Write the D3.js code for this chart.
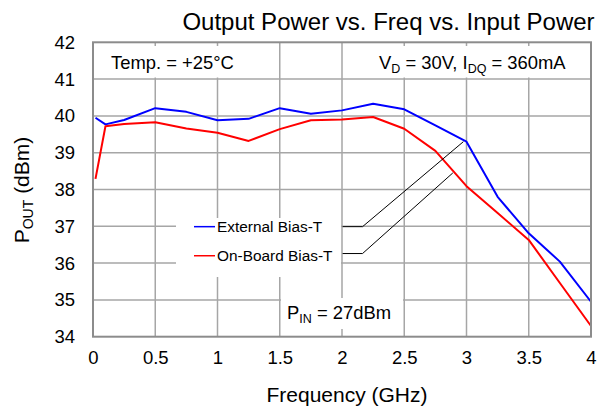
<!DOCTYPE html>
<html>
<head>
<meta charset="utf-8">
<script src="https://cdn.jsdelivr.net/npm/d3@7"></script>
<style>
  html, body { margin: 0; padding: 0; background: #fff; }
  svg { display: block; font-family: "Liberation Sans", Arial, sans-serif; }
</style>
</head>
<body>
<svg id="chart" width="598" height="411"></svg>
<script>
// Frequency points (GHz)
const freq = [0.02, 0.1, 0.25, 0.5, 0.75, 1, 1.25, 1.5, 1.75, 2, 2.25, 2.5, 2.75, 3, 3.25, 3.5, 3.75, 4];
// Output power (dBm) for each bias configuration
const externalBiasT = [39.95, 39.77, 39.89, 40.21, 40.11, 39.88, 39.92, 40.21, 40.06, 40.15, 40.33, 40.18, 39.74, 39.30, 37.80, 36.81, 36.04, 34.95];
const onBoardBiasT  = [38.29, 39.72, 39.78, 39.83, 39.66, 39.54, 39.32, 39.64, 39.88, 39.90, 39.97, 39.65, 39.05, 38.09, 37.36, 36.63, 35.46, 34.29];
const seriesNames = ["External Bias-T", "On-Board Bias-T"];
const seriesColors = ["#0000ff", "#ff0000"];
const xTicks = [0, 0.5, 1, 1.5, 2, 2.5, 3, 3.5, 4];
const yTicks = [34, 35, 36, 37, 38, 39, 40, 41, 42];

const svg = d3.select("#chart");
const m = { left: 93, right: 591, top: 42.3, bottom: 336.7 };
const x = d3.scaleLinear().domain([0, 4]).range([m.left, m.right]);
const y = d3.scaleLinear().domain([34, 42]).range([m.bottom, m.top]);

const gridColor = "#a6a6a6";

// grid
const grid = svg.append("g");
grid.selectAll("line.v").data(xTicks.slice(1, -1)).join("line")
  .attr("x1", d => x(d)).attr("x2", d => x(d))
  .attr("y1", m.top).attr("y2", m.bottom)
  .attr("stroke", gridColor).attr("stroke-width", 1.5);
grid.selectAll("line.h").data(yTicks.slice(1, -1)).join("line")
  .attr("x1", m.left).attr("x2", m.right)
  .attr("y1", d => y(d)).attr("y2", d => y(d))
  .attr("stroke", gridColor).attr("stroke-width", 1.5);

// series curves
const line = d3.line().x((d, i) => x(freq[i])).y(d => y(d));
[externalBiasT, onBoardBiasT].forEach((s, k) => {
  svg.append("path").datum(s)
    .attr("d", line)
    .attr("fill", "none")
    .attr("stroke", seriesColors[k])
    .attr("stroke-width", 2)
    .attr("stroke-linejoin", "round");
});

// leader lines from the legend to each curve
const leaders = [
  { y0: 36.99, fx: 2.975, fy: 39.30 },
  { y0: 36.26, fx: 2.89, fy: 38.45 }
];
leaders.forEach(l => {
  svg.append("polyline")
    .attr("points", `${x(2.005)},${y(l.y0)} ${x(2.165)},${y(l.y0)} ${x(l.fx)},${y(l.fy)}`)
    .attr("fill", "none").attr("stroke", "#000").attr("stroke-width", 1);
});

// white label boxes
function box(x0, y0, x1, y1) {
  svg.append("rect").attr("x", x0).attr("y", y0)
    .attr("width", x1 - x0).attr("height", y1 - y0).attr("fill", "#fff");
}
box(m.left + 1, 46, 262, 77.5);
box(350, 46, m.right - 1, 77.5);
box(176, 218, 341, 277);
box(281, 298, 403, 329);

// plot border
svg.append("rect")
  .attr("x", m.left).attr("y", m.top)
  .attr("width", m.right - m.left).attr("height", m.bottom - m.top)
  .attr("fill", "none").attr("stroke", "#8c8c8c").attr("stroke-width", 2);

// axes tick labels
const xAxis = d3.axisBottom(x).tickValues(xTicks).tickSize(0).tickPadding(9).tickFormat(d3.format("~g"));
svg.append("g").attr("transform", `translate(0,${m.bottom + 5})`).call(xAxis)
  .call(g => g.select(".domain").remove())
  .selectAll("text").attr("font-size", 18.5).attr("fill", "#000")
  .attr("font-family", "Liberation Sans, Arial, sans-serif");

const yAxis = d3.axisLeft(y).tickValues(yTicks).tickSize(0).tickPadding(18);
svg.append("g").attr("transform", `translate(${m.left},0)`).call(yAxis)
  .call(g => g.select(".domain").remove())
  .selectAll("text").attr("font-size", 18.5).attr("fill", "#000")
  .attr("font-family", "Liberation Sans, Arial, sans-serif");

// title
svg.append("text").attr("x", 388.5).attr("y", 30).attr("text-anchor", "middle")
  .attr("font-size", 24).text("Output Power vs. Freq vs. Input Power");

// axis titles
svg.append("text").attr("x", 347).attr("y", 402).attr("text-anchor", "middle")
  .attr("font-size", 21).text("Frequency (GHz)");

const yt = svg.append("text").attr("transform", "translate(29,190) rotate(-90)")
  .attr("text-anchor", "middle").attr("font-size", 21);
yt.append("tspan").text("P");
yt.append("tspan").attr("font-size", 14).attr("dy", 4).text("OUT");
yt.append("tspan").attr("dy", -4).text(" (dBm)");

// annotations
svg.append("text").attr("x", 111).attr("y", 68.5).attr("font-size", 18.4).text("Temp. = +25°C");

const vd = svg.append("text").attr("x", 379).attr("y", 68.5).attr("font-size", 18.4);
vd.append("tspan").text("V");
vd.append("tspan").attr("font-size", 12.5).attr("dy", 4).text("D");
vd.append("tspan").attr("dy", -4).text(" = 30V, I");
vd.append("tspan").attr("font-size", 12.5).attr("dy", 4).text("DQ");
vd.append("tspan").attr("dy", -4).text(" = 360mA");

const pin = svg.append("text").attr("x", 287).attr("y", 318.5).attr("font-size", 18.4);
pin.append("tspan").text("P");
pin.append("tspan").attr("font-size", 12.5).attr("dy", 4).text("IN");
pin.append("tspan").attr("dy", -4).text(" = 27dBm");

// legend
const legendY = [36.99, 36.2];
seriesNames.forEach((name, k) => {
  const ly = y(legendY[k]);
  svg.append("line").attr("x1", 194).attr("x2", 215).attr("y1", ly).attr("y2", ly)
    .attr("stroke", seriesColors[k]).attr("stroke-width", 1.5);
  svg.append("text").attr("x", 217).attr("y", ly + 5.5).attr("font-size", 15.4).text(name);
});
</script>
</body>
</html>
